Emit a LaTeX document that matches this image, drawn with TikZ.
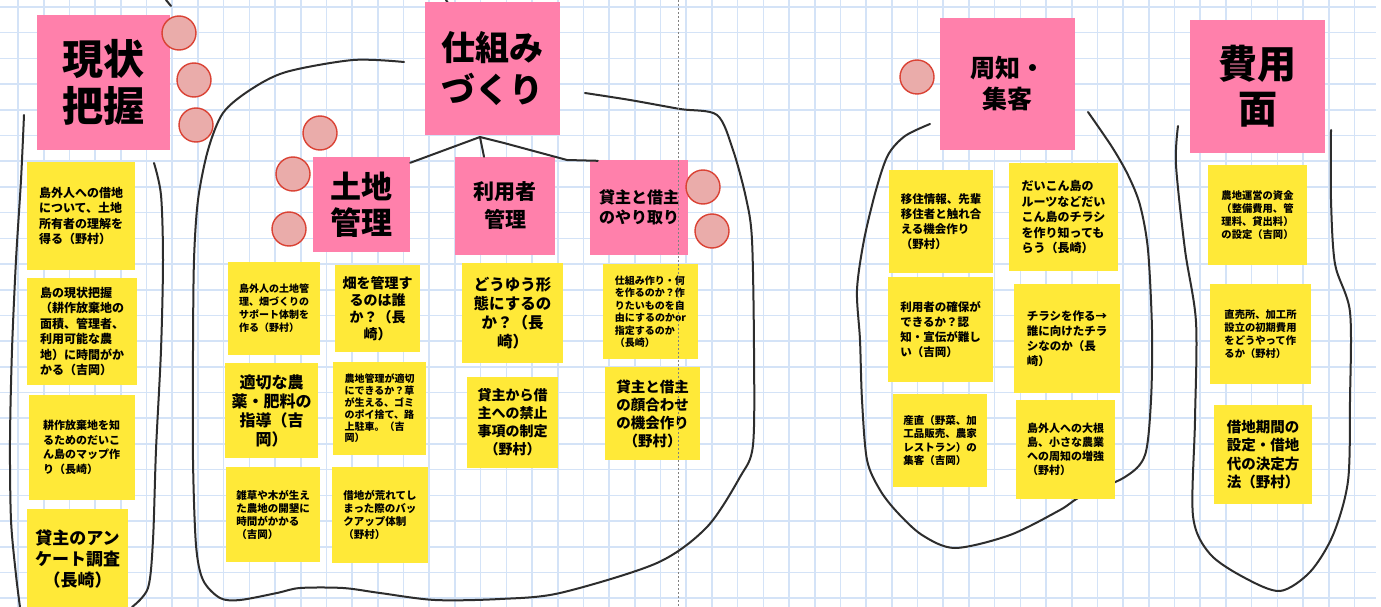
\documentclass[tikz,border=0pt]{standalone}
\usepackage{fontspec}
\setmainfont{Noto Sans CJK JP}
\definecolor{pinkc}{RGB}{255,128,171}
\definecolor{yel}{RGB}{255,233,56}
\definecolor{cfill}{RGB}{234,172,170}
\definecolor{cdraw}{RGB}{218,66,52}
\definecolor{gridc}{RGB}{212,227,247}
\definecolor{ink}{RGB}{45,45,45}
\tikzset{
 fs/.style 2 args={font=\bfseries\fontsize{#1}{#2}\selectfont},
 hdr/.style={fill=pinkc, inner sep=0pt, align=center},
 note/.style={fill=yel, inner sep=0pt, align=left},
 notec/.style={fill=yel, inner sep=0pt, align=center},
 dot/.style={circle, fill=cfill, draw=cdraw, line width=1.4pt, minimum size=34pt, inner sep=0pt},
 hand/.style={draw=ink, line width=2pt, line cap=round, line join=round},
 gridline/.style={draw=gridc, line width=1.6pt},
}
\begin{document}
\begin{tikzpicture}[x=1pt,y=-1pt]
\useasboundingbox (0,0) rectangle (1381,607);
\fill[white] (0,0) rectangle (1381,607);
% grid
\foreach \xx in {18,43.7,...,1377} {\draw[gridline] (\xx,0) -- (\xx,607);}
\foreach \yy in {7,32.7,...,607} {\draw[gridline] (0,\yy) -- (1376,\yy);}

% hand-drawn outlines
\draw[hand] plot[smooth] coordinates {(24,115) (21,180) (16,260) (12,350) (10,440) (11,520) (16,575) (20,607)};
\draw[hand] plot[smooth] coordinates {(154,163) (161,195) (163,260) (161,350) (156,450) (153,540) (148,588) (132,607)};
\draw[hand] plot[smooth] coordinates {(404,62) (353,60) (286,72) (250,90) (223,113) (208,150) (198,200) (194,260) (193,350) (193,460) (196,545) (203,580) (220,598) (240,600) (277,593) (300,588) (343,588) (380,593) (435,600) (500,599) (560,593) (657,563) (707,527) (740,477) (753,445) (754,350) (752,240) (746,198) (733,150) (717,115) (680,109) (630,100) (585,93)};
\draw[hand] plot[smooth] coordinates {(930,124) (905,136) (888,155) (876,190) (864,240) (857,290) (860,340) (862,400) (867,460) (880,490) (897,512) (922,535) (955,548) (1010,535) (1060,510) (1080,497) (1125,477) (1145,455) (1151,400) (1152,330) (1148,250) (1140,205) (1128,175) (1112,147) (1088,112)};
\draw[hand] plot[smooth] coordinates {(1178,126) (1176,165) (1185,250) (1196,322) (1195,420) (1193,516) (1210,554) (1245,578) (1280,591) (1310,572) (1333,535) (1348,481) (1350,400) (1350,312) (1335,264) (1331,200) (1331,130)};
\draw[hand] (166,0) -- (171,6);
\draw[hand] (446,0) -- (448,3);

% header notes
\node[hdr, fs={41}{47}, minimum width=133pt, minimum height=135pt] (genjo) at (103.5,82.5) {現状\\把握};
\node[hdr, fs={34}{42}, minimum width=135pt, minimum height=133pt] (shikumi) at (492.5,68.5) {仕組み\\づくり};
\node[hdr, fs={31}{36}, minimum width=97pt, minimum height=95pt] (tochi) at (361.5,204.5) {土地\\管理};
\node[hdr, fs={21}{28}, minimum width=100pt, minimum height=98pt] (riyo) at (505,206) {利用者\\管理};
\node[hdr, fs={16}{20}, minimum width=98pt, minimum height=95pt] (kashi) at (639,207.5) {貸主と借主\\のやり取り};
\node[hdr, fs={25}{31}, minimum width=135pt, minimum height=132pt] (shuchi) at (1007.5,84) {周知・\\集客};
\node[hdr, fs={39}{45}, minimum width=135pt, minimum height=133pt] (hiyo) at (1257.5,86.5) {費用\\面};

% dots
\node[dot] (d1) at (179,33) {};
\node[dot] (d2) at (194,80) {};
\node[dot] (d3) at (196,125) {};
\node[dot] (d4) at (320,133) {};
\node[dot] (d5) at (293,174) {};
\node[dot] (d6) at (289,229) {};
\node[dot] (d7) at (703,187) {};
\node[dot] (d8) at (712,231) {};
\node[dot] (d9) at (917,77) {};

% tree connectors
\coordinate (jn) at (480,137);
\draw[hand] (jn) -- ([yshift=-6pt]tochi.north east);
\draw[hand] (jn) -- ([xshift=-21pt]riyo.north);
\draw[hand] (jn) -- (504,143) -- (567,160) -- ([xshift=8pt,yshift=-1pt]kashi.north west);

% left column
\node[note, fs={12}{15.5}, minimum width=108pt, minimum height=108pt] (n1) at (81,216) {島外人への借地\\について、土地\\所有者の理解を\\得る（野村）};
\node[note, fs={12}{15.5}, minimum width=110pt, minimum height=107pt] (n2) at (82,331.5) {島の現状把握\\（耕作放棄地の\\面積、管理者、\\利用可能な農\\地）に時間がか\\かる（吉岡）};
\node[note, fs={11}{14.5}, minimum width=106pt, minimum height=105pt] (n3) at (81.5,447.5) {耕作放棄地を知\\るためのだいこ\\ん島のマップ作\\り（長崎）};
\node[notec, fs={17}{21}, minimum width=101pt, minimum height=100pt] (n4) at (77.5,559) {貸主のアン\\ケート調査\\（長崎）};

% land management
\node[note, fs={10}{13}, minimum width=92pt, minimum height=93pt] (n5) at (274,308.5) {島外人の土地管\\理、畑づくりの\\サポート体制を\\作る（野村）};
\node[notec, fs={14}{17}, minimum width=85pt, minimum height=87pt] (n6) at (377.5,308.5) {畑を管理す\\るのは誰\\か？（長\\崎）};
\node[notec, fs={16}{19}, minimum width=93pt, minimum height=95pt] (n7) at (271.5,410.5) {適切な農\\薬・肥料の\\指導（吉\\岡）};
\node[note, fs={10}{11.8}, minimum width=93pt, minimum height=93pt] (n8) at (379.5,408.5) {農地管理が適切\\にできるか？草\\が生える、ゴミ\\のポイ捨て、路\\上駐車。（吉\\岡）};
\node[note, fs={10.5}{13}, minimum width=94pt, minimum height=95pt] (n9) at (273,514.5) {雑草や木が生え\\た農地の開墾に\\時間がかかる\\（吉岡）};
\node[note, fs={10.5}{13}, minimum width=96pt, minimum height=96pt] (n10) at (380,515) {借地が荒れてし\\まった際のバッ\\クアップ体制\\（野村）};

% user management
\node[notec, fs={15.5}{19}, minimum width=101pt, minimum height=100pt] (n11) at (512.5,313) {どうゆう形\\態にするの\\か？（長\\崎）};
\node[notec, fs={14}{18}, minimum width=91pt, minimum height=91pt] (n12) at (512.5,422.5) {貸主から借\\主への禁止\\事項の制定\\（野村）};

% lender/borrower
\node[note, fs={10}{12.5}, minimum width=95pt, minimum height=95pt] (n13) at (650.5,311.5) {仕組み作り・何\\を作るのか？作\\りたいものを自\\由にするのかor\\指定するのか\\（長崎）};
\node[notec, fs={14.5}{18}, minimum width=95pt, minimum height=93pt] (n14) at (652.5,413.5) {貸主と借主\\の顔合わせ\\の機会作り\\（野村）};

% promotion
\node[note, fs={11.5}{15}, minimum width=104pt, minimum height=103pt] (n15) at (941,221.5) {移住情報、先輩\\移住者と触れ合\\える機会作り\\（野村）};
\node[note, fs={12}{15.5}, minimum width=109pt, minimum height=108pt] (n16) at (1063.5,217) {だいこん島の\\ルーツなどだい\\こん島のチラシ\\を作り知っても\\らう（長崎）};
\node[note, fs={11.5}{15}, minimum width=105pt, minimum height=105pt] (n17) at (940.5,329.5) {利用者の確保が\\できるか？認\\知・宣伝が難し\\い（吉岡）};
\node[note, fs={11.5}{15}, minimum width=106pt, minimum height=109pt] (n18) at (1067,338.5) {チラシを作る→\\誰に向けたチラ\\シなのか（長\\崎）};
\node[note, fs={10.5}{13.5}, minimum width=94pt, minimum height=93pt] (n19) at (940,440.5) {産直（野菜、加\\工品販売、農家\\レストラン）の\\集客（吉岡）};
\node[note, fs={11}{14}, minimum width=99pt, minimum height=99pt] (n20) at (1065.5,449.5) {島外人への大根\\島、小さな農業\\への周知の増強\\（野村）};

% cost
\node[note, fs={10.3}{13}, minimum width=99pt, minimum height=100pt] (n21) at (1257.5,215) {農地運営の資金\\（整備費用、管\\理料、貸出料）\\の設定（吉岡）};
\node[note, fs={10.3}{13}, minimum width=101pt, minimum height=100pt] (n22) at (1260.5,334) {直売所、加工所\\設立の初期費用\\をどうやって作\\るか（野村）};
\node[note, fs={14.5}{18.5}, minimum width=98pt, minimum height=99pt] (n23) at (1263,454.5) {借地期間の\\設定・借地\\代の決定方\\法（野村）};

% dashed guide
\draw[gray, dash pattern=on 2pt off 2pt, line width=0.6pt] (678,0) -- (678,607);
\end{tikzpicture}
\end{document}
